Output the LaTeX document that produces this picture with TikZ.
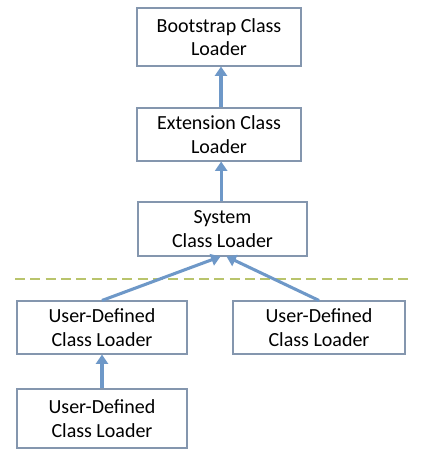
\documentclass[tikz,border=0pt]{standalone}
\usepackage{fontspec}
\setmainfont{Carlito}
\usetikzlibrary{arrows.meta}
\definecolor{boxline}{HTML}{8496AE}
\definecolor{arrowblue}{HTML}{6E98C8}
\definecolor{dashgreen}{HTML}{B9C46C}
\tikzset{
  box/.style={draw=boxline, line width=0.8pt, fill=white, align=center,
    inner sep=0pt, font=\fontsize{15}{17.5}\selectfont, text=black},
  arr/.style={draw=arrowblue, line width=2.3pt,
    -{Triangle[length=7pt,width=9pt]}},
  sep/.style={draw=dashgreen, line width=1.6pt, dash pattern=on 7.5pt off 4pt}
}
\begin{document}
\begin{tikzpicture}[x=0.75pt,y=-0.75pt]
\useasboundingbox (0,0) rectangle (433,460);
\node[box, minimum width=123pt, minimum height=43.5pt] (boot) at (219,37) {Bootstrap Class\\Loader};
\node[box, minimum width=123pt, minimum height=39.75pt] (ext) at (219,134.5) {Extension Class\\Loader};
\node[box, minimum width=126.75pt, minimum height=40.5pt] (sys) at (222.5,229) {System\\Class Loader};
\node[box, minimum width=127.5pt, minimum height=39.75pt] (udl) at (102,327.5) {User-Defined\\Class Loader};
\node[box, minimum width=129pt, minimum height=39.75pt] (udr) at (319,327.5) {User-Defined\\Class Loader};
\node[box, minimum width=127.5pt, minimum height=44.25pt] (udb) at (102,418.5) {User-Defined\\Class Loader};
\coordinate (dl) at (15,279);
\coordinate (dr) at (410,279);
\draw[sep] (dl) -- (dr);
\draw[arr] ([xshift=1.5pt]ext.north) -- ([xshift=1.5pt]boot.south);
\draw[arr] ([xshift=-1pt]sys.north) -- ([xshift=-1pt]sys.north |- ext.south);
\draw[arr] (udl.north) -- ([xshift=-1.5pt]sys.south);
\draw[arr] (udr.north) -- ([xshift=3pt]sys.south);
\draw[arr] (udb.north) -- (udl.south);
\end{tikzpicture}
\end{document}
